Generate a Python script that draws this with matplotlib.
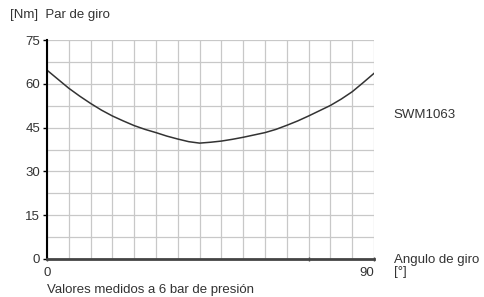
import matplotlib
matplotlib.use("Agg")
import matplotlib.pyplot as plt
import numpy as np

plt.rcParams['font.family'] = ['Liberation Sans', 'DejaVu Sans']

# angulo de giro [grados] y par de giro [Nm]
angulo = [0, 3, 6, 9, 12, 15, 18, 21, 24, 27, 30, 33, 36, 39, 42, 45,
          48, 51, 54, 57, 60, 63, 66, 69, 72, 75, 78, 81, 84, 87, 90]
par = [64.7, 61.6, 58.5, 55.8, 53.3, 51.0, 49.0, 47.3, 45.7, 44.4,
       43.3, 42.1, 41.1, 40.2, 39.7, 40.0, 40.4, 41.0, 41.7, 42.5,
       43.3, 44.4, 45.8, 47.3, 49.0, 50.8, 52.6, 54.8, 57.3, 60.4, 63.6]
y_ticks = [0, 15, 30, 45, 60, 75]
modelo = "SWM1063"

txt = '#333333'
fs = 9.5

fig = plt.figure(figsize=(4.85, 2.97), dpi=100)
ax = fig.add_axes([0.0969, 0.128, 0.6742, 0.737])

ax.plot(angulo, par, color='#333333', lw=1.1)

ax.set_xlim(0, 90)
ax.set_ylim(0, 75)

# regilla
ax.set_xticks(np.arange(0, 91, 6), minor=True)
ax.set_yticks(np.arange(0, 76, 7.5), minor=True)
ax.grid(which='both', color='#c8c8c8', lw=0.9)
ax.set_axisbelow(True)

ax.set_yticks(y_ticks)
ax.set_yticklabels([str(v) for v in y_ticks], color=txt, fontsize=fs)
ax.set_xticks([0, 72, 90])
ax.set_xticklabels(['', '', ''])
ax.tick_params(axis='both', which='minor', length=0)
ax.tick_params(axis='y', which='major', length=3, width=1, color='black', pad=2)
ax.tick_params(axis='x', which='major', length=3, width=1, color='#444444', direction='inout')

for s in ['top', 'right']:
    ax.spines[s].set_visible(False)
ax.spines['left'].set_color('black')
ax.spines['left'].set_linewidth(1.5)
ax.spines['bottom'].set_color('#444444')
ax.spines['bottom'].set_linewidth(2)

fig.text(10 / 485, 1 - 18 / 297, '[Nm]  Par de giro', fontsize=fs, color=txt, va='baseline')
fig.text(47 / 485, 1 - 276 / 297, '0', fontsize=fs, color=txt, va='baseline', ha='center')
fig.text(374 / 485, 1 - 276 / 297, '90', fontsize=fs, color=txt, va='baseline', ha='right')
fig.text(394 / 485, 1 - 263 / 297, 'Angulo de giro', fontsize=fs, color=txt, va='baseline')
fig.text(394 / 485, 1 - 275 / 297, '[°]', fontsize=fs, color=txt, va='baseline')
fig.text(393 / 485, 1 - 118 / 297, modelo, fontsize=fs, color=txt, va='baseline')
fig.text(47 / 485, 1 - 293 / 297, 'Valores medidos a 6 bar de presión', fontsize=fs,
         color=txt, va='baseline')

fig.savefig('out.png', dpi=100)
